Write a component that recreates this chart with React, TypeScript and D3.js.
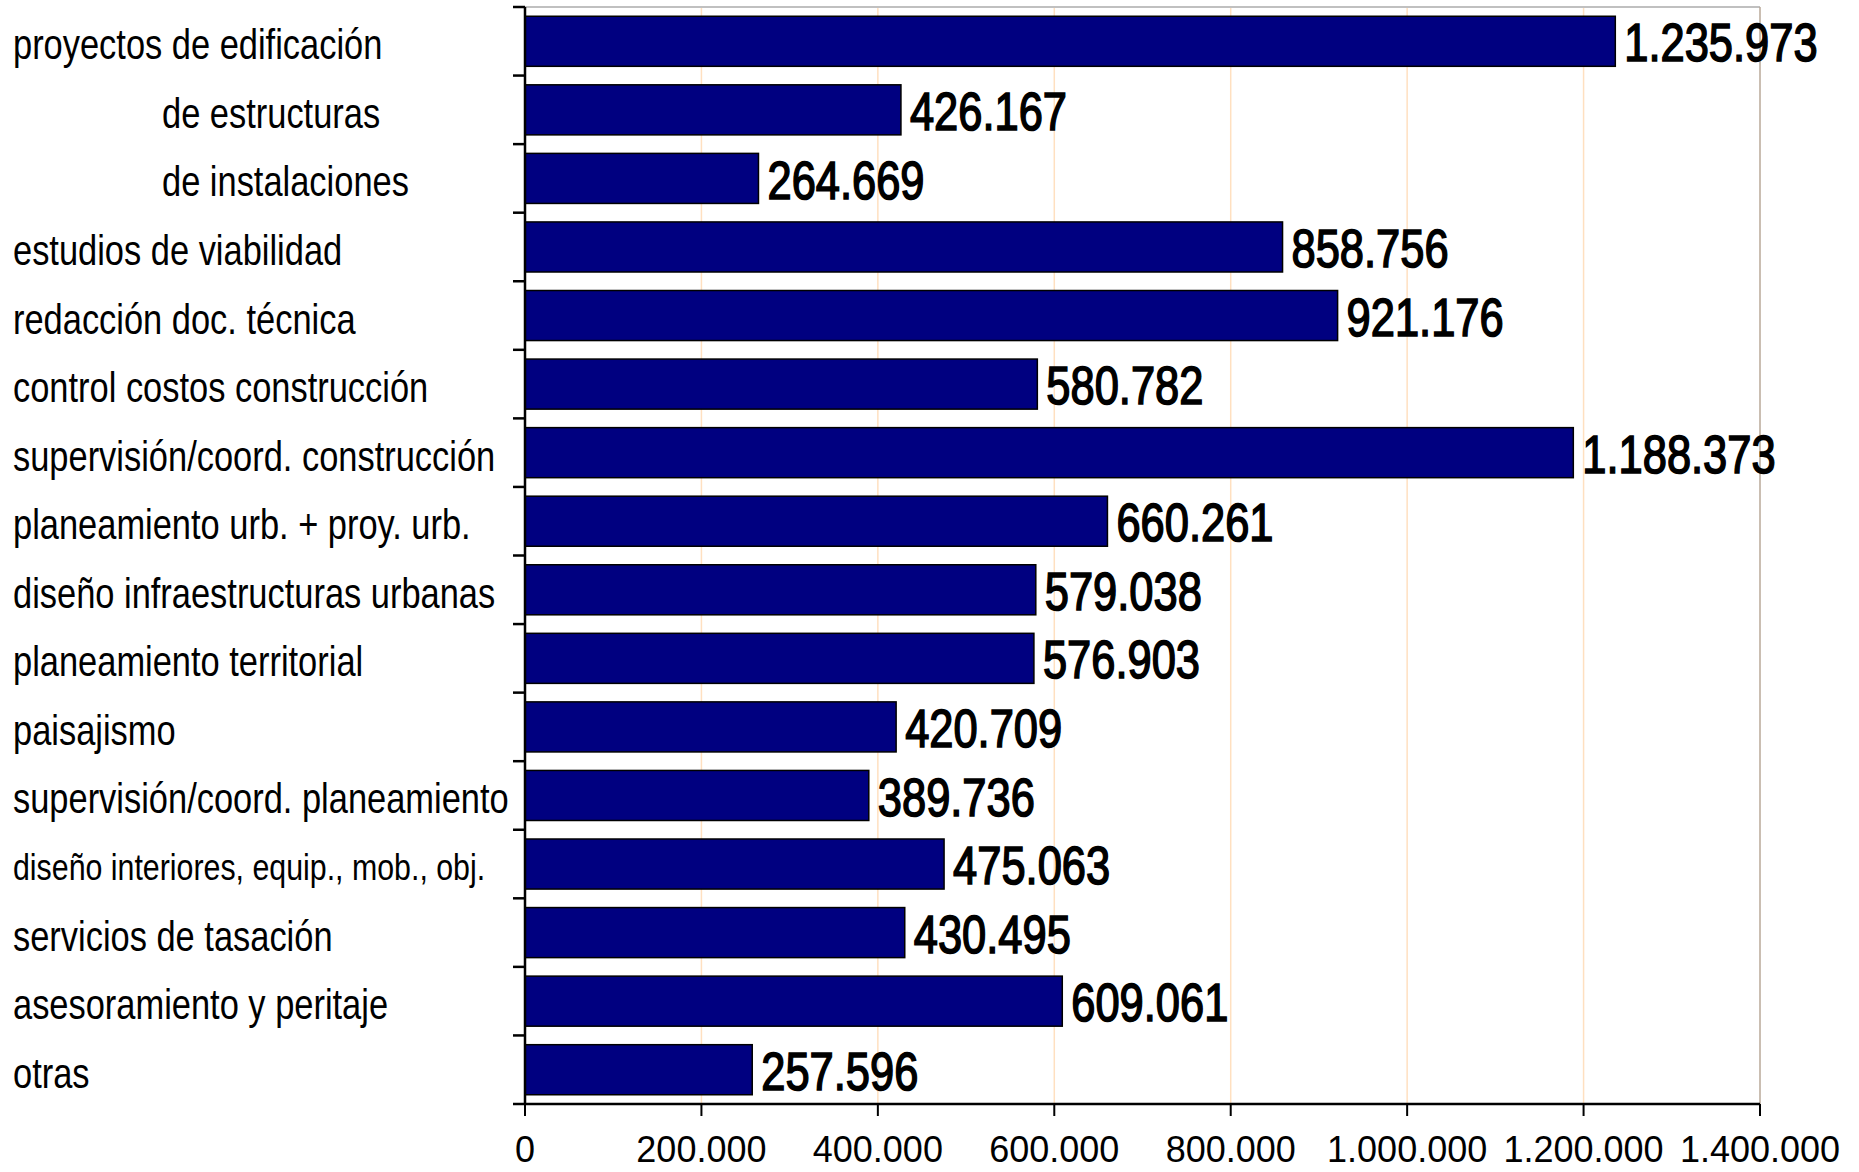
import * as d3 from "d3";

const categories = [
  "proyectos de edificación",
  "de estructuras",
  "de instalaciones",
  "estudios de viabilidad",
  "redacción doc. técnica",
  "control costos construcción",
  "supervisión/coord. construcción",
  "planeamiento urb. + proy. urb.",
  "diseño infraestructuras urbanas",
  "planeamiento territorial",
  "paisajismo",
  "supervisión/coord. planeamiento",
  "diseño interiores, equip., mob., obj.",
  "servicios de tasación",
  "asesoramiento y peritaje",
  "otras",
];

const values = [
  1235973, 426167, 264669, 858756, 921176, 580782, 1188373, 660261, 579038,
  576903, 420709, 389736, 475063, 430495, 609061, 257596,
];

const xTicks = [0, 200000, 400000, 600000, 800000, 1000000, 1200000, 1400000];

// sub-rows shown indented under "proyectos de edificación"
const indented = new Set(["de estructuras", "de instalaciones"]);
const smallLabels = new Set(["diseño interiores, equip., mob., obj."]);

const W = 1859;
const H = 1172;
const margin = { left: 525, right: 99, top: 7, bottom: 68 };

const locale = d3.formatLocale({ decimal: ",", thousands: ".", grouping: [3], currency: ["", "€"] });
const fmt = locale.format(",d");

// Arial Narrow is not installed: Liberation Sans squeezed horizontally gives the same metrics
const SANS = "'Liberation Sans', Arial, sans-serif";
const NARROW = 0.82;

function NarrowText(props: { x: number; y: number; size: number; heavy?: boolean; children: string }) {
  return (
    <text
      transform={`translate(${props.x},${props.y}) scale(${NARROW},1)`}
      dy="0.38em"
      fontFamily={SANS}
      fontSize={props.size}
      fill="#000"
      stroke={props.heavy ? "#000" : "none"}
      strokeWidth={props.heavy ? 1.6 : 0}
    >
      {props.children}
    </text>
  );
}

export default function App() {
  const x = d3.scaleLinear().domain([0, 1400000]).range([margin.left, W - margin.right]);
  const y = d3
    .scaleBand<string>()
    .domain(categories)
    .range([margin.top, H - margin.bottom])
    .paddingInner(0.27)
    .paddingOuter(0.135);

  const step = y.step();
  const top = margin.top;
  const bottom = H - margin.bottom;
  const boundaries = d3.range(categories.length + 1).map((i) => top + i * step);

  return (
    <div style={{ position: "absolute", left: 0, top: 0 }}>
      <svg width={W} height={H} style={{ display: "block", background: "#fff" }}>
        {/* gridlines */}
        {xTicks.slice(1, -1).map((t) => (
          <line key={t} x1={x(t)} x2={x(t)} y1={top} y2={bottom} stroke="#ffe0c0" strokeWidth={1.5} />
        ))}
        <line x1={x.range()[0]} x2={x.range()[1]} y1={top} y2={top} stroke="#c0c0c0" strokeWidth={2} />
        <line x1={x.range()[1]} x2={x.range()[1]} y1={top} y2={bottom} stroke="#b8a898" strokeWidth={1.5} />

        {/* bars */}
        {categories.map((c, i) => (
          <rect
            key={c}
            x={x(0)}
            y={y(c)}
            width={x(values[i]) - x(0)}
            height={y.bandwidth()}
            fill="#000080"
            stroke="#000"
            strokeWidth={1.5}
          />
        ))}

        {/* value labels */}
        {categories.map((c, i) => (
          <NarrowText key={c} x={x(values[i]) + 9} y={(y(c) ?? 0) + y.bandwidth() / 2} size={53} heavy>
            {fmt(values[i])}
          </NarrowText>
        ))}

        {/* y axis */}
        <line x1={x(0)} x2={x(0)} y1={top} y2={bottom} stroke="#000" strokeWidth={2.5} />
        {boundaries.map((b, i) => (
          <line key={i} x1={x(0) - 12} x2={x(0)} y1={b} y2={b} stroke="#000" strokeWidth={2.5} />
        ))}
        {categories.map((c) => (
          <NarrowText
            key={c}
            x={indented.has(c) ? 162 : 13}
            y={(y(c) ?? 0) + y.bandwidth() / 2 + 2}
            size={smallLabels.has(c) ? 37 : 42}
          >
            {c}
          </NarrowText>
        ))}

        {/* x axis */}
        <line x1={x(0)} x2={x.range()[1]} y1={bottom} y2={bottom} stroke="#000" strokeWidth={2.5} />
        {xTicks.map((t) => (
          <g key={t}>
            <line x1={x(t)} x2={x(t)} y1={bottom} y2={bottom + 12} stroke="#000" strokeWidth={2} />
            <text x={x(t)} y={1162} textAnchor="middle" fontFamily={SANS} fontSize={36} fill="#000">
              {fmt(t)}
            </text>
          </g>
        ))}
      </svg>
    </div>
  );
}
